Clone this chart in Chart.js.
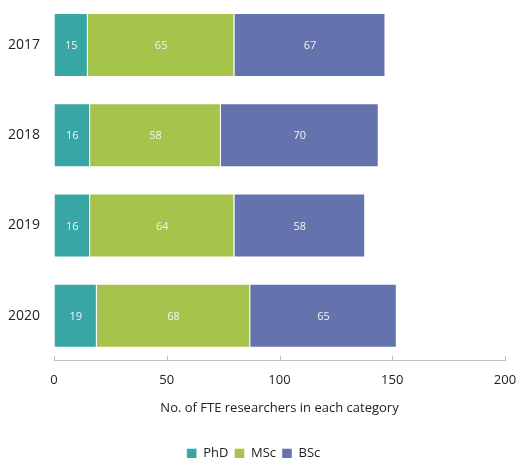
<!DOCTYPE html>
<html>
<head>
<meta charset="utf-8">
<script src="https://cdn.jsdelivr.net/npm/chart.js@4/dist/chart.umd.min.js"></script>
<style>
  html, body { margin: 0; padding: 0; background: #fff; }
  #wrap { width: 518px; height: 458px; }
</style>
</head>
<body>
<div id="wrap"><canvas id="chart"></canvas></div>
<script>
const years = ['2017', '2018', '2019', '2020'];
const phd = [15, 16, 16, 19];
const msc = [65, 58, 64, 68];
const bsc = [67, 70, 58, 65];
const xTicks = [0, 50, 100, 150, 200];

// values written in the middle of each segment
const barLabelPlugin = {
    id: 'barLabelPlugin',
    afterDatasetsDraw(chart) {
        const ctx = chart.ctx;
        ctx.save();
        ctx.font = '11px "Open Sans", sans-serif';
        ctx.fillStyle = '#f4f4f4';
        ctx.textAlign = 'center';
        ctx.textBaseline = 'middle';
        chart.data.datasets.forEach((ds, i) => {
            chart.getDatasetMeta(i).data.forEach((bar, j) => {
                const cx = (bar.x + bar.base) / 2;
                ctx.fillText(String(ds.data[j]), cx, bar.y + 1);
            });
        });
        ctx.restore();
    }
};

// tick marks pointing up from the x axis line
const innerTickPlugin = {
    id: 'innerTickPlugin',
    afterDraw(chart) {
        const ctx = chart.ctx;
        const x = chart.scales.x;
        const y0 = x.top;
        ctx.save();
        ctx.strokeStyle = '#bfbfbf';
        ctx.lineWidth = 1;
        ctx.beginPath();
        xTicks.forEach(v => {
            const px = Math.round(x.getPixelForValue(v)) + 0.5;
            ctx.moveTo(px, y0);
            ctx.lineTo(px, y0 - 5);
        });
        ctx.stroke();
        ctx.restore();
    }
};

new Chart(document.getElementById('chart'), {
    type: 'bar',
    data: {
        labels: years,
        datasets: [
            { label: 'PhD', data: phd, backgroundColor: '#38a6a5' },
            { label: 'MSc', data: msc, backgroundColor: '#a6c34c' },
            { label: 'BSc', data: bsc, backgroundColor: '#6472ad' }
        ].map(d => Object.assign(d, {
            borderColor: 'rgba(255,255,255,0.45)',
            borderWidth: 1,
            categoryPercentage: 0.71,
            barPercentage: 1
        }))
    },
    options: {
        indexAxis: 'y',
        responsive: true,
        maintainAspectRatio: false,
        animation: false,
        layout: { padding: { top: 0, right: 13, left: 2, bottom: -12 } },
        plugins: {
            legend: {
                position: 'bottom',
                labels: {
                    boxWidth: 10,
                    boxHeight: 10,
                    padding: 6,
                    color: '#222',
                    font: { family: '"Open Sans", sans-serif', size: 13 }
                }
            },
            tooltip: { enabled: false }
        },
        scales: {
            x: {
                stacked: true,
                min: 0,
                max: 200,
                afterBuildTicks: axis => { axis.ticks = xTicks.map(v => ({ value: v })); },
                afterFit: axis => { axis.paddingRight = 0; axis.paddingLeft = 0; },
                grid: {
                    display: true,
                    drawOnChartArea: false,
                    drawTicks: false
                },
                border: { display: true, color: '#bfbfbf' },
                ticks: {
                    color: '#222',
                    padding: 12,
                    font: { family: '"Open Sans", sans-serif', size: 13 }
                },
                title: {
                    display: true,
                    text: 'No. of FTE researchers in each category',
                    color: '#222',
                    padding: { top: 0, bottom: 25 },
                    font: { family: '"Open Sans", sans-serif', size: 13 }
                }
            },
            y: {
                stacked: true,
                afterFit: axis => { axis.paddingTop = 0; axis.paddingBottom = 0; },
                grid: { display: false },
                border: { display: false },
                ticks: {
                    color: '#222',
                    padding: 6,
                    font: { family: '"Open Sans", sans-serif', size: 14 }
                }
            }
        }
    },
    plugins: [barLabelPlugin, innerTickPlugin]
});
</script>
</body>
</html>
